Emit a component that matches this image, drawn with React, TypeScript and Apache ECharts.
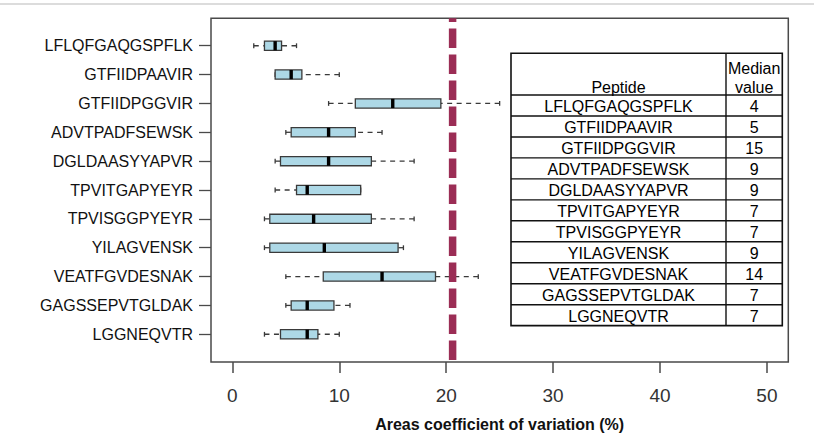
import React, { useEffect, useRef } from "react";
import * as echarts from "echarts";

const categories = [
  "LFLQFGAQGSPFLK",
  "GTFIIDPAAVIR",
  "GTFIIDPGGVIR",
  "ADVTPADFSEWSK",
  "DGLDAASYYAPVR",
  "TPVITGAPYEYR",
  "TPVISGGPYEYR",
  "YILAGVENSK",
  "VEATFGVDESNAK",
  "GAGSSEPVTGLDAK",
  "LGGNEQVTR",
];
const whiskerLow = [2, 4, 9, 5, 4, 4, 3, 3, 5, 5, 3];
const q1 = [3, 4, 11.5, 5.5, 4.5, 6, 3.5, 3.5, 8.5, 5.5, 4.5];
const medians = [4, 5.5, 15, 9, 9, 7, 7.6, 8.6, 14, 7, 7];
const q3 = [4.6, 6.5, 19.5, 11.5, 13, 12, 13, 15.5, 19, 9.5, 8];
const whiskerHigh = [6, 10, 25, 14, 17, 12, 17, 16, 23, 11, 10];
const tableMedians = [4, 5, 15, 9, 9, 7, 7, 9, 14, 7, 7];
const threshold = 20.6;
const xTicks = [0, 10, 20, 30, 40, 50];
const xMin = -2;
const xMax = 52;
const axisTitle = "Areas coefficient of variation (%)";
const tableHeader = ["Peptide", "Median", "value"];

const FONT = "'Liberation Sans', Arial, Helvetica, sans-serif";

function buildTable() {
  const left = 511;
  const div = 726;
  const right = 782.3;
  const top = 53.3;
  const headBottom = 95;
  const rowH = 20.97;
  const bottom = headBottom + rowH * categories.length;
  const stroke = "#111";
  const els: any[] = [];
  els.push({
    type: "rect",
    shape: { x: left, y: top, width: right - left, height: bottom - top },
    style: { fill: "#fff", stroke, lineWidth: 1.6 },
    z: 10,
  });
  els.push({
    type: "line",
    shape: { x1: div, y1: top, x2: div, y2: bottom },
    style: { stroke, lineWidth: 1.4 },
    z: 11,
  });
  for (let i = 0; i < categories.length; i++) {
    const y = headBottom + i * rowH;
    els.push({
      type: "line",
      shape: { x1: left, y1: y, x2: right, y2: y },
      style: { stroke, lineWidth: 1.4 },
      z: 11,
    });
  }
  const cx1 = (left + div) / 2;
  const cx2 = (div + right) / 2;
  const ts = { fontSize: 16, fontFamily: FONT, fill: "#000", align: "center", verticalAlign: "middle" };
  els.push({ type: "text", x: cx1, y: 87, style: { ...ts, text: tableHeader[0] }, z: 12 });
  els.push({ type: "text", x: cx2, y: 68.5, style: { ...ts, text: tableHeader[1] }, z: 12 });
  els.push({ type: "text", x: cx2, y: 87, style: { ...ts, text: tableHeader[2] }, z: 12 });
  for (let i = 0; i < categories.length; i++) {
    const cy = headBottom + (i + 0.5) * rowH + 1.5;
    els.push({ type: "text", x: cx1, y: cy, style: { ...ts, text: categories[i] }, z: 12 });
    els.push({ type: "text", x: cx2, y: cy, style: { ...ts, text: String(tableMedians[i]) }, z: 12 });
  }
  return els;
}

export default function App() {
  const ref = useRef<HTMLDivElement>(null);
  useEffect(() => {
    if (!ref.current) return;
    const chart = echarts.init(ref.current, null, { renderer: "svg" });
    const boxData = categories.map((_, i) => [i, whiskerLow[i], q1[i], medians[i], q3[i], whiskerHigh[i]]);
    const option: any = {
      animation: false,
      backgroundColor: "#fff",
      textStyle: { fontFamily: FONT },
      grid: [
        { left: 211, right: 25.7, top: 31.3, bottom: 93.3 },
        {
          left: 211,
          top: 18.3,
          width: 577.3,
          height: 343.7,
          show: true,
          borderColor: "#4a4a4a",
          borderWidth: 1.5,
          backgroundColor: "transparent",
        },
      ],
      xAxis: [
        {
          gridIndex: 0,
          type: "value",
          min: xMin,
          max: xMax,
          offset: 13.3,
          axisLine: { show: false, onZero: false },
          axisTick: {
            show: true,
            length: 11,
            customValues: xTicks,
            lineStyle: { color: "#4a4a4a", width: 1.5 },
          },
          axisLabel: {
            fontSize: 19,
            color: "#333",
            margin: 24,
            fontFamily: FONT,
            customValues: xTicks,
            showMinLabel: true,
            showMaxLabel: true,
          },
          splitLine: { show: false },
          name: axisTitle,
          nameLocation: "middle",
          nameGap: 54,
          nameTextStyle: { fontSize: 16, fontWeight: "bold", color: "#111", fontFamily: FONT },
        },
        { gridIndex: 1, type: "value", min: xMin, max: xMax, show: false },
      ],
      yAxis: [
        {
          gridIndex: 0,
          type: "category",
          data: categories,
          inverse: true,
          axisLine: { show: false, onZero: false },
          axisTick: { show: true, alignWithLabel: true, length: 12, lineStyle: { color: "#4a4a4a", width: 1.3 } },
          axisLabel: { fontSize: 16, color: "#111", margin: 18, fontFamily: FONT },
          splitLine: { show: false },
        },
        { gridIndex: 1, type: "value", min: 0, max: 1, show: false },
      ],
      series: [
        {
          type: "custom",
          xAxisIndex: 0,
          yAxisIndex: 0,
          data: boxData,
          encode: { y: 0, x: [1, 2, 3, 4, 5] },
          z: 2,
          renderItem: (params: any, api: any) => {
            const cat = api.value(0);
            const lo = api.coord([api.value(1), cat]);
            const b1 = api.coord([api.value(2), cat]);
            const md = api.coord([api.value(3), cat]);
            const b3 = api.coord([api.value(4), cat]);
            const hi = api.coord([api.value(5), cat]);
            const band = api.size([0, 1])[1];
            const h = band * 0.32;
            const y = md[1];
            const cap = 2.4;
            const wStyle = { stroke: "#3a3a3a", lineWidth: 1.3, lineDash: [5, 4.5] };
            const cStyle = { stroke: "#3a3a3a", lineWidth: 1.3 };
            return {
              type: "group",
              children: [
                { type: "line", shape: { x1: lo[0], y1: y, x2: b1[0], y2: y }, style: wStyle },
                { type: "line", shape: { x1: hi[0], y1: y, x2: b3[0], y2: y }, style: wStyle },
                { type: "line", shape: { x1: lo[0], y1: y - cap, x2: lo[0], y2: y + cap }, style: cStyle },
                { type: "line", shape: { x1: hi[0], y1: y - cap, x2: hi[0], y2: y + cap }, style: cStyle },
                {
                  type: "rect",
                  shape: { x: b1[0], y: y - h / 2, width: b3[0] - b1[0], height: h },
                  style: { fill: "#ADD8E6", stroke: "#3a3a3a", lineWidth: 1.3 },
                },
                {
                  type: "rect",
                  shape: { x: md[0] - 1.7, y: y - h / 2, width: 3.4, height: h },
                  style: { fill: "#000" },
                },
              ],
            };
          },
        },
        {
          type: "line",
          xAxisIndex: 1,
          yAxisIndex: 1,
          data: [
            [threshold, 0],
            [threshold, 1],
          ],
          showSymbol: false,
          symbol: "none",
          silent: true,
          z: 5,
          lineStyle: {
            color: "#9b2d55",
            width: 7.5,
            type: [19.5, 6.5],
            dashOffset: 23.8,
            cap: "butt",
          },
        },
      ],
      graphic: [
        {
          type: "line",
          shape: { x1: 0, y1: 4, x2: 814, y2: 4 },
          style: { stroke: "#d0d0d0", lineWidth: 1.5 },
        },
        ...buildTable(),
      ],
    };
    chart.setOption(option);
    return () => chart.dispose();
  }, []);
  return (
    <div
      ref={ref}
      style={{ position: "fixed", left: 0, top: 0, width: 814, height: 442, background: "#fff" }}
    />
  );
}
